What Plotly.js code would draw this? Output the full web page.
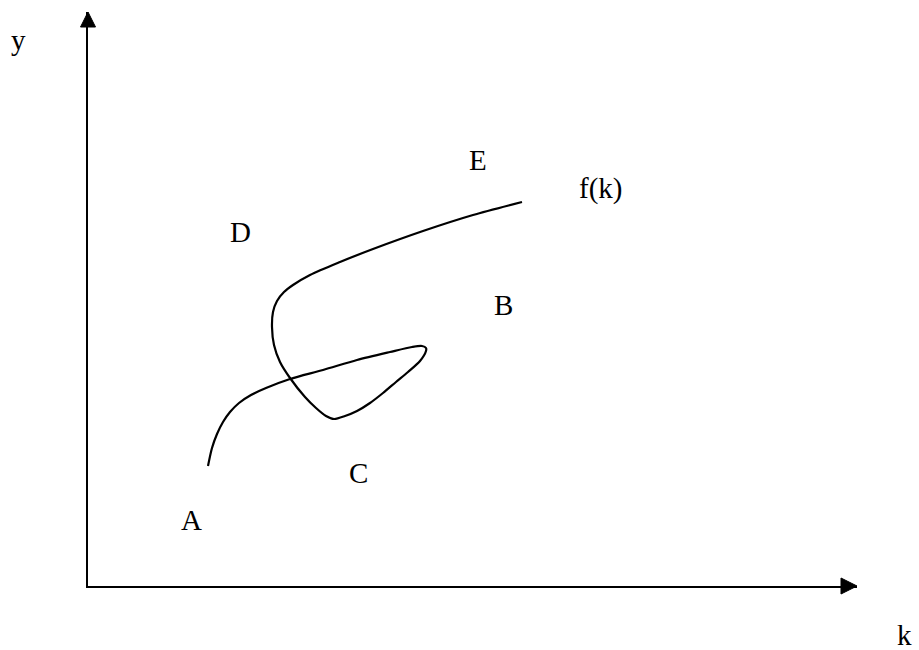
<!DOCTYPE html>
<html>
<head>
<meta charset="utf-8">
<script src="https://cdn.plot.ly/plotly-3.0.1.min.js"></script>
<style>html,body{margin:0;padding:0;background:#fff;}#chart{width:919px;height:650px;}</style>
</head>
<body>
<div id="chart"></div>
<script>
// Curve f(k): k values and y values (units = offset from the origin)
const curveK = [120,124,129,135,142,151,163,178,202,235,269,302,324,334,338,338,332,320,308,295,282,269,257,246,238,228,217,202,192,186,184,185,189,196,205,222,252,285,335,385,434];
const curveY = [120,138,152,164,174,183,191,198,207,216,226,234,239,240,238,235,225,214,204,193,183,175,170,167,170,178,189,208,224,241,259,274,285,294,301,311,324,337,355,371,384];

// Text labels and their positions
const labelText = ["D","B","C","A","E","f(k)","y","k"];
const labelK    = [152, 415, 270, 103, 390, 512, -70, 816];
const labelY    = [354, 281, 113, 66, 426, 398, 546, -49];

const K_MAX = 769, Y_MAX = 574;

const traces = [{
  x: curveK, y: curveY, type: 'scatter', mode: 'lines',
  line: {color: '#000', width: 2.2, shape: 'spline', smoothing: 0.8},
  hoverinfo: 'skip', showlegend: false
}];

const annotations = labelText.map((t, i) => ({
  x: labelK[i] / K_MAX, y: labelY[i] / Y_MAX, xref: 'paper', yref: 'paper', text: t, showarrow: false,
  xanchor: 'center', yanchor: 'middle',
  font: {family: '"Liberation Serif", "Times New Roman", serif', size: 29, color: '#000'}
}));

const layout = {
  width: 919, height: 650,
  margin: {l: 88, r: 62, t: 12, b: 64, pad: 0},
  paper_bgcolor: '#fff', plot_bgcolor: '#fff',
  showlegend: false,
  xaxis: {range: [0, K_MAX], showgrid: false, zeroline: false, showticklabels: false, ticks: '',
          showline: true, linecolor: '#000', linewidth: 2, fixedrange: true},
  yaxis: {range: [0, Y_MAX], showgrid: false, zeroline: false, showticklabels: false, ticks: '',
          showline: true, linecolor: '#000', linewidth: 2, fixedrange: true},
  annotations: annotations,
  shapes: [
    {type: 'path', xref: 'paper', yref: 'paper', xsizemode: 'pixel', ysizemode: 'pixel',
     xanchor: 1, yanchor: 0, path: 'M-16,-8 L0,0 L-16,8 Z',
     fillcolor: '#000', line: {color: '#000', width: 1}},
    {type: 'path', xref: 'paper', yref: 'paper', xsizemode: 'pixel', ysizemode: 'pixel',
     xanchor: 0, yanchor: 1, path: 'M-7.5,-15 L0,0 L7.5,-15 Z',
     fillcolor: '#000', line: {color: '#000', width: 1}}
  ]
};

Plotly.newPlot('chart', traces, layout, {displayModeBar: false, staticPlot: true});
</script>
</body>
</html>
